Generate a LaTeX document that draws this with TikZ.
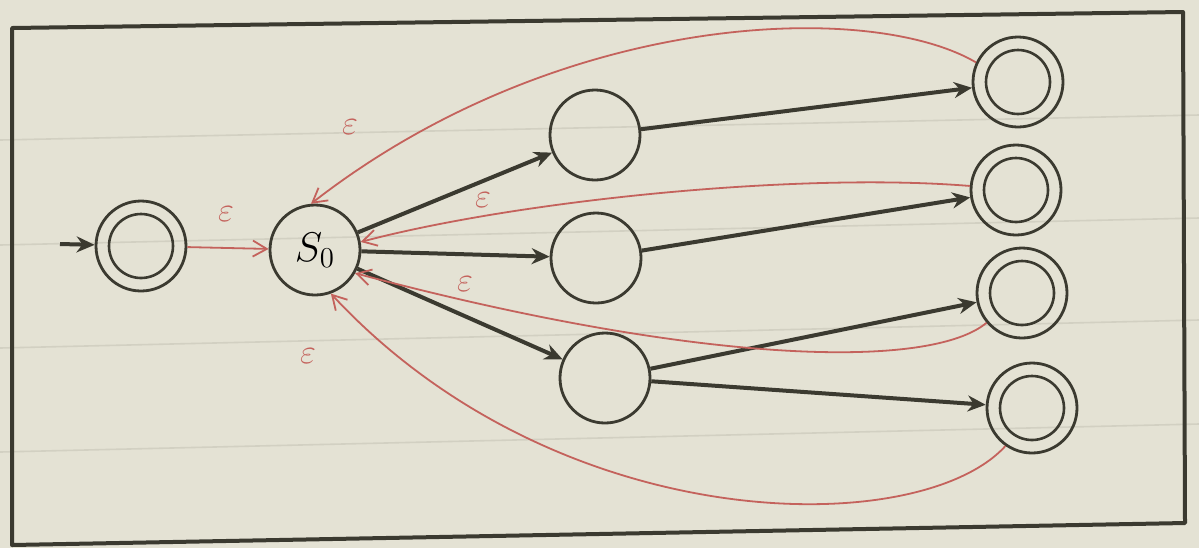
\documentclass[tikz,border=0pt]{standalone}
\usetikzlibrary{arrows.meta}
\definecolor{paper}{HTML}{E4E2D4}
\definecolor{ink}{HTML}{3B3A30}
\definecolor{redink}{HTML}{C4625C}
\definecolor{ruling}{HTML}{D2D0C2}
\begin{document}
\begin{tikzpicture}[x=0.5pt,y=-0.5pt,
  state/.style={circle,draw=ink,line width=1.4pt,minimum size=45pt,inner sep=0pt},
  accept/.style={state,path picture={\draw[ink,line width=1.3pt] (path picture bounding box.center) circle[radius=16pt];}},
  trans/.style={draw=ink,line width=2pt,-{Stealth[length=9pt,width=8pt]}},
  eps/.style={draw=redink,line width=0.9pt,-{Straight Barb[length=7pt,width=8pt]}},
  elabel/.style={text=redink,font=\fontsize{19}{19}\selectfont,inner sep=1pt}]
\useasboundingbox (0,0) rectangle (1199,548);
\fill[paper] (0,0) rectangle (1199,548);
% ruled paper lines
\foreach \ya/\yb in {140/115,245/218,348/320,452/424}
  \draw[ruling,line width=0.8pt] (0,\ya) -- (1199,\yb);
% frame
\draw[ink,line width=2pt,line join=round] (12,545) -- (12,28) -- (1183,12) -- (1185,523) -- cycle;
% states
\node[state] (s0) at (315,250) {\fontsize{21}{21}\selectfont $S_0$};
\node[accept] (st) at (141,246) {};
\node[state] (q1) at (595,135) {};
\node[state] (q2) at (596,258) {};
\node[state] (q3) at (605,378) {};
\node[accept] (f1) at (1018,82) {};
\node[accept] (f2) at (1016,190) {};
\node[accept] (f3) at (1022,293) {};
\node[accept] (f4) at (1032,408) {};
\coordinate (in) at (60,244);
% black transitions
\draw[trans] (in) -- (st);
\draw[trans] (s0) -- (q1);
\draw[trans] (s0) -- (q2);
\draw[trans] (s0) -- (q3);
\draw[trans] (q1) -- (f1);
\draw[trans] (q2) -- (f2);
\draw[trans] (q3) -- (f3);
\draw[trans] (q3) -- (f4);
% epsilon transitions
\draw[eps] (st) -- (s0);
\draw[eps] (f1.155) .. controls (870,0) and (560,10) .. (s0.95);
\draw[eps] (f2.175) .. controls (800,172) and (520,200) .. (s0.10);
\draw[eps] (f3.220) .. controls (930,370) and (700,365) .. (s0.-30);
\draw[eps] (f4.235) .. controls (920,540) and (560,540) .. (s0.-70);
% labels
\node[elabel] (e0) at (226,214) {$\varepsilon$};
\node[elabel] (e1) at (350,127) {$\varepsilon$};
\node[elabel] (e2) at (483,200) {$\varepsilon$};
\node[elabel] (e3) at (465,284) {$\varepsilon$};
\node[elabel] (e4) at (308,356) {$\varepsilon$};
\end{tikzpicture}
\end{document}
